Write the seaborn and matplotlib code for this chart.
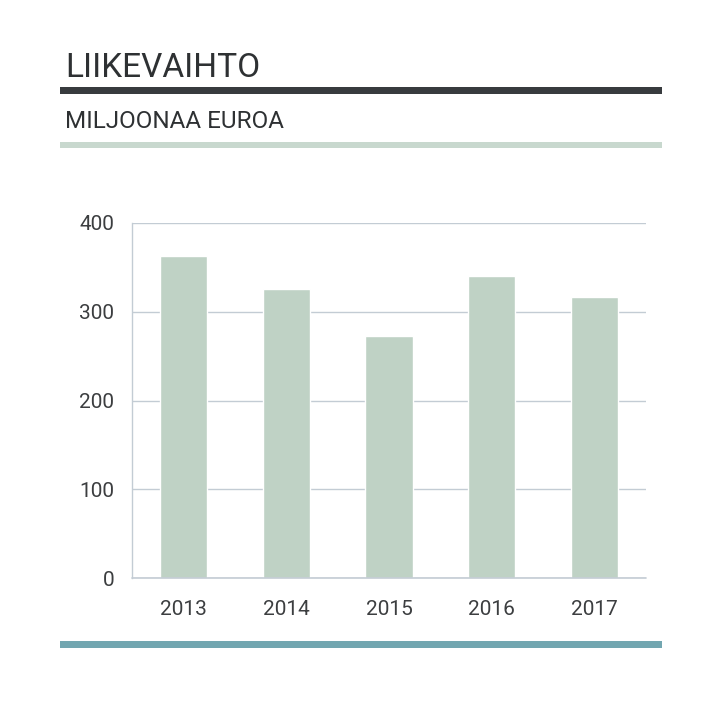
import numpy as np
import pandas as pd
import seaborn as sns
import matplotlib.pyplot as plt
from matplotlib.patches import Rectangle

years = ["2013", "2014", "2015", "2016", "2017"]
revenue = [363, 326, 273, 340, 317]
y_ticks = [0, 100, 200, 300, 400]

title = "LIIKEVAIHTO"
subtitle = "MILJOONAA EUROA"

bar_col = "#BFD2C5"
grid_col = "#C3CCD4"
text_col = "#3C3E40"

sns.set_theme(style="white")
plt.rcParams['font.family'] = ['Roboto', 'DejaVu Sans']

df = pd.DataFrame({"year": years, "value": revenue})

fig = plt.figure(figsize=(7.22, 7.08), dpi=100)
ax = fig.add_axes([132/722, 1 - 578/708, 514/722, 355/708])

sns.barplot(data=df, x="year", y="value", color=bar_col, width=0.46,
            saturation=1, ax=ax)

ax.set_ylim(0, 400)
ax.set_yticks(y_ticks)
ax.set_xlabel("")
ax.set_ylabel("")
ax.set_axisbelow(True)
ax.yaxis.grid(True, color=grid_col, lw=1)
ax.xaxis.grid(False)
ax.axhline(0, color=grid_col, lw=1.2, clip_on=False, zorder=3)
for s in ["top", "right", "bottom"]:
    ax.spines[s].set_visible(False)
ax.spines["left"].set_color(grid_col)
ax.spines["left"].set_linewidth(1)
ax.tick_params(axis="y", length=5.8, width=1, color=grid_col, pad=7,
               labelsize=15, labelcolor=text_col)
ax.tick_params(axis="x", length=0, pad=16, labelsize=15, labelcolor=text_col)

# header text and decorative bars
fig.text(65/722, 1 - 77/708, title, fontsize=24, color="#2E3133",
         va="baseline", ha="left")
fig.text(65/722, 1 - 128/708, subtitle, fontsize=17.5, color="#2E3133",
         va="baseline", ha="left")

fig.add_artist(Rectangle((60/722, 1 - 94/708), 602/722, 7/708,
                         transform=fig.transFigure, color="#383B3E", lw=0))
fig.add_artist(Rectangle((60/722, 1 - 148/708), 602/722, 6/708,
                         transform=fig.transFigure, color="#C8D8CE", lw=0))
fig.add_artist(Rectangle((60/722, 1 - 648/708), 602/722, 7/708,
                         transform=fig.transFigure, color="#72A6B0", lw=0))

fig.savefig("out.png", dpi=100)
